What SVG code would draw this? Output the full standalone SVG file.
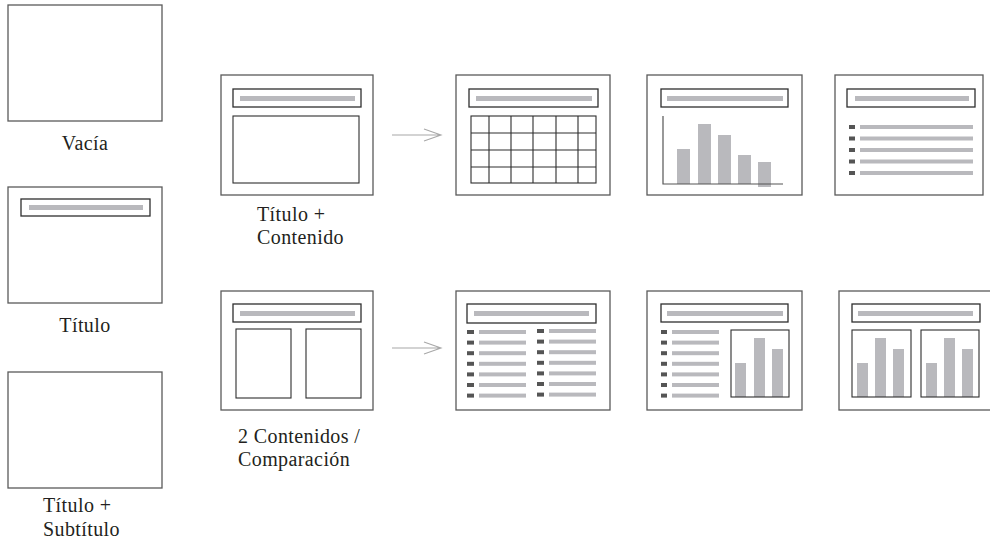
<svg xmlns="http://www.w3.org/2000/svg" width="990" height="545" viewBox="0 0 990 545">
<style>
.slide{fill:#fff;stroke:#5a5a5a;stroke-width:1.3}
.tbox{fill:#fff;stroke:#2e2e2e;stroke-width:1.3}
.box{fill:none;stroke:#2e2e2e;stroke-width:1.1}
.bar{fill:#b9b9bd}
.bul{fill:#555}
.grid{stroke:#2e2e2e;stroke-width:1.1;fill:none}
.axis{stroke:#555;stroke-width:1.2;fill:none}
.arrow{stroke:#a8a8a8;stroke-width:1.1;fill:none}
.lbl{font-family:"Liberation Serif","Times New Roman",serif;font-size:20px;fill:#231f20;letter-spacing:0.4px}
</style>
<defs>
<g id="bl7a">
<rect class="bul" x="0" y="0" width="7" height="4"/>
</g>
</defs>

<g id="vacia">
<rect class="slide" x="8" y="5" width="154" height="116"/>
<text class="lbl" x="85" y="150" text-anchor="middle">Vacía</text>
</g>

<g id="titulo">
<rect class="slide" x="8" y="187" width="154" height="116"/>
<rect class="tbox" x="21" y="199" width="129" height="17"/>
<rect class="bar" x="29" y="205" width="114" height="5"/>
<text class="lbl" x="85" y="332" text-anchor="middle">Título</text>
</g>

<g id="titulo-subtitulo">
<rect class="slide" x="8" y="372" width="154" height="116"/>
<text class="lbl" x="43" y="512">Título +</text>
<text class="lbl" x="43" y="536">Subtítulo</text>
</g>

<g id="titulo-contenido">
<rect class="slide" x="221" y="75" width="152" height="120"/>
<rect class="tbox" x="233" y="89" width="128" height="18"/>
<rect class="bar" x="240" y="96" width="115" height="5"/>
<rect class="box" x="233" y="116" width="126" height="67"/>
<text class="lbl" x="257" y="221">Título +</text>
<text class="lbl" x="257" y="244">Contenido</text>
</g>

<g id="tabla">
<rect class="slide" x="456" y="75" width="154" height="120"/>
<rect class="tbox" x="469" y="89" width="129" height="18"/>
<rect class="bar" x="476" y="96" width="116" height="5"/>
<rect class="grid" x="471" y="116" width="125" height="67"/>
<path class="grid" d="M489 116V183M511 116V183M533 116V183M556 116V183M578 116V183M471 133H596M471 150H596M471 167H596"/>
</g>

<g id="grafico">
<rect class="slide" x="647" y="75" width="155" height="120"/>
<rect class="tbox" x="661" y="89" width="127" height="18"/>
<rect class="bar" x="667" y="96" width="116" height="5"/>
<rect class="bar" x="677" y="149" width="13" height="35"/>
<rect class="bar" x="698" y="124" width="13" height="60"/>
<rect class="bar" x="718" y="135" width="13" height="49"/>
<rect class="bar" x="738" y="155" width="13" height="29"/>
<rect class="bar" x="758" y="162" width="13" height="25"/>
<path class="axis" d="M663 116V184H783"/>
</g>

<g id="lista">
<rect class="slide" x="835" y="75" width="148" height="120"/>
<rect class="tbox" x="847" y="89" width="128" height="18"/>
<rect class="bar" x="855" y="96" width="114" height="5"/>
<rect class="bul" x="849" y="125" width="6" height="4"/><rect class="bar" x="860" y="125" width="113" height="4"/>
<rect class="bul" x="849" y="136.5" width="6" height="4"/><rect class="bar" x="860" y="136.5" width="113" height="4"/>
<rect class="bul" x="849" y="148" width="6" height="4"/><rect class="bar" x="860" y="148" width="113" height="4"/>
<rect class="bul" x="849" y="159.5" width="6" height="4"/><rect class="bar" x="860" y="159.5" width="113" height="4"/>
<rect class="bul" x="849" y="171" width="6" height="4"/><rect class="bar" x="860" y="171" width="113" height="4"/>
</g>

<g id="dos-contenidos">
<rect class="slide" x="221" y="291" width="152" height="119"/>
<rect class="tbox" x="233" y="304" width="128" height="18"/>
<rect class="bar" x="240" y="311" width="115" height="5"/>
<rect class="box" x="236" y="329" width="55" height="69"/>
<rect class="box" x="306" y="329" width="55" height="69"/>
<text class="lbl" x="238" y="443">2 Contenidos /</text>
<text class="lbl" x="238" y="466">Comparación</text>
</g>

<g id="dos-listas">
<rect class="slide" x="456" y="291" width="154" height="119"/>
<rect class="tbox" x="467" y="304" width="129" height="19"/>
<rect class="bar" x="474" y="311" width="115" height="5"/>
<rect class="bul" x="467" y="330" width="7" height="4"/><rect class="bar" x="479" y="330" width="47" height="4"/>
<rect class="bul" x="467" y="340.6" width="7" height="4"/><rect class="bar" x="479" y="340.6" width="47" height="4"/>
<rect class="bul" x="467" y="351.2" width="7" height="4"/><rect class="bar" x="479" y="351.2" width="47" height="4"/>
<rect class="bul" x="467" y="361.8" width="7" height="4"/><rect class="bar" x="479" y="361.8" width="47" height="4"/>
<rect class="bul" x="467" y="372.4" width="7" height="4"/><rect class="bar" x="479" y="372.4" width="47" height="4"/>
<rect class="bul" x="467" y="383" width="7" height="4"/><rect class="bar" x="479" y="383" width="47" height="4"/>
<rect class="bul" x="467" y="393.6" width="7" height="4"/><rect class="bar" x="479" y="393.6" width="47" height="4"/>
<rect class="bul" x="537" y="329" width="7" height="4"/><rect class="bar" x="549" y="329" width="47" height="4"/>
<rect class="bul" x="537" y="339.6" width="7" height="4"/><rect class="bar" x="549" y="339.6" width="47" height="4"/>
<rect class="bul" x="537" y="350.2" width="7" height="4"/><rect class="bar" x="549" y="350.2" width="47" height="4"/>
<rect class="bul" x="537" y="360.8" width="7" height="4"/><rect class="bar" x="549" y="360.8" width="47" height="4"/>
<rect class="bul" x="537" y="371.4" width="7" height="4"/><rect class="bar" x="549" y="371.4" width="47" height="4"/>
<rect class="bul" x="537" y="382" width="7" height="4"/><rect class="bar" x="549" y="382" width="47" height="4"/>
<rect class="bul" x="537" y="392.6" width="7" height="4"/><rect class="bar" x="549" y="392.6" width="47" height="4"/>
</g>

<g id="lista-grafico">
<rect class="slide" x="647" y="291" width="155" height="119"/>
<rect class="tbox" x="661" y="304" width="127" height="18"/>
<rect class="bar" x="667" y="311" width="116" height="5"/>
<rect class="bul" x="661" y="330" width="6" height="4"/><rect class="bar" x="672" y="330" width="47" height="4"/>
<rect class="bul" x="661" y="340.6" width="6" height="4"/><rect class="bar" x="672" y="340.6" width="47" height="4"/>
<rect class="bul" x="661" y="351.2" width="6" height="4"/><rect class="bar" x="672" y="351.2" width="47" height="4"/>
<rect class="bul" x="661" y="361.8" width="6" height="4"/><rect class="bar" x="672" y="361.8" width="47" height="4"/>
<rect class="bul" x="661" y="372.4" width="6" height="4"/><rect class="bar" x="672" y="372.4" width="47" height="4"/>
<rect class="bul" x="661" y="383" width="6" height="4"/><rect class="bar" x="672" y="383" width="47" height="4"/>
<rect class="bul" x="661" y="393.6" width="6" height="4"/><rect class="bar" x="672" y="393.6" width="47" height="4"/>
<rect class="bar" x="735" y="363" width="11" height="34"/>
<rect class="bar" x="754" y="338" width="11" height="59"/>
<rect class="bar" x="772" y="349" width="11" height="48"/>
<rect class="box" x="731" y="330" width="58" height="67"/>
</g>

<g id="dos-graficos">
<rect class="slide" x="839" y="291" width="155" height="119"/>
<rect class="tbox" x="852" y="304" width="128" height="18"/>
<rect class="bar" x="858" y="311" width="115" height="5"/>
<rect class="bar" x="857" y="363" width="11" height="34"/>
<rect class="bar" x="875" y="338" width="11" height="59"/>
<rect class="bar" x="893" y="349" width="11" height="48"/>
<rect class="box" x="852" y="330" width="59" height="67"/>
<rect class="bar" x="926" y="363" width="11" height="34"/>
<rect class="bar" x="944" y="338" width="11" height="59"/>
<rect class="bar" x="962" y="349" width="11" height="48"/>
<rect class="box" x="921" y="330" width="58" height="67"/>
</g>

<g id="connectors">
<path class="arrow" d="M392 135H441M424 129L441 135L424 141"/>
<path class="arrow" d="M392 348H441M424 342L441 348L424 354"/>
</g>
</svg>
